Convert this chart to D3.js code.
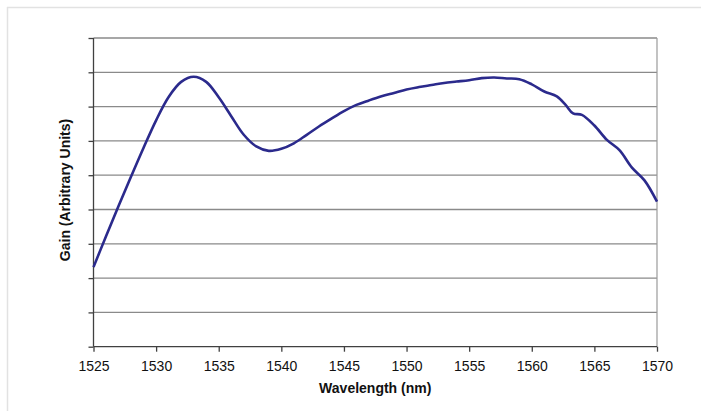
<!DOCTYPE html>
<html>
<head>
<meta charset="utf-8">
<script src="https://cdn.jsdelivr.net/npm/d3@7"></script>
<style>
  html, body { margin: 0; padding: 0; background: #fff; }
  svg { display: block; }
</style>
</head>
<body>
<svg id="chart" width="701" height="411"></svg>
<script>
// ---- data ----
const wavelengths = [1525, 1526, 1527, 1528, 1529, 1530, 1531, 1532, 1533, 1534, 1535, 1536, 1537, 1538, 1539,
  1540, 1541, 1542, 1543, 1544, 1545, 1546, 1547, 1548, 1549, 1550, 1551, 1552, 1553, 1554, 1555,
  1556, 1557, 1558, 1559, 1560, 1561, 1562, 1562.7, 1563.3, 1564, 1565, 1566, 1567, 1568, 1569, 1570];
const gain = [2.32, 3.22, 4.1, 4.96, 5.8, 6.6, 7.28, 7.72, 7.87, 7.72, 7.27, 6.72, 6.18, 5.84, 5.71,
  5.77, 5.93, 6.17, 6.42, 6.65, 6.87, 7.05, 7.18, 7.3, 7.4, 7.5, 7.57, 7.63, 7.69, 7.73, 7.77,
  7.83, 7.85, 7.82, 7.8, 7.65, 7.44, 7.3, 7.05, 6.8, 6.76, 6.45, 6.03, 5.73, 5.22, 4.85, 4.23];
const xTicks = [1525, 1530, 1535, 1540, 1545, 1550, 1555, 1560, 1565, 1570];
const yTicks = [0, 1, 2, 3, 4, 5, 6, 7, 8, 9];
const xTitle = "Wavelength (nm)";
const yTitle = "Gain (Arbitrary Units)";

// ---- layout ----
const svg = d3.select("#chart");
const pLeft = 93.5, pRight = 657, pTop = 38, pBottom = 346.7;

// outer frame (light)
svg.append("line").attr("x1", 7).attr("x2", 701).attr("y1", 7.5).attr("y2", 7.5)
  .attr("stroke", "#e2e2e2").attr("stroke-width", 1.5);
svg.append("line").attr("x1", 7.5).attr("x2", 7.5).attr("y1", 7).attr("y2", 411)
  .attr("stroke", "#e2e2e2").attr("stroke-width", 1.5);

const x = d3.scaleLinear().domain([1525, 1570]).range([pLeft, pRight]);
const y = d3.scaleLinear().domain([0, 9]).range([pBottom, pTop]);

// gridlines
svg.append("g").selectAll("line").data(yTicks.slice(1)).join("line")
  .attr("x1", pLeft).attr("x2", pRight)
  .attr("y1", d => y(d)).attr("y2", d => y(d))
  .attr("stroke", "#8a8a8a").attr("stroke-width", 1.3);

// right border of plot area
svg.append("line").attr("x1", pRight).attr("x2", pRight).attr("y1", pTop).attr("y2", pBottom)
  .attr("stroke", "#9a9a9a").attr("stroke-width", 1.2);

// y axis (no labels)
const yAxis = svg.append("g").attr("transform", `translate(${pLeft},0)`)
  .call(d3.axisLeft(y).tickValues(yTicks).tickSize(5).tickFormat(""));
yAxis.selectAll("path, line").attr("stroke", "#404040").attr("stroke-width", 1.3);
yAxis.select(".domain").attr("d", `M0,${pTop}V${pBottom}`);

// x axis
const xAxis = svg.append("g").attr("transform", `translate(0,${pBottom})`)
  .call(d3.axisBottom(x).tickValues(xTicks).tickSize(5).tickFormat(d3.format("d")));
xAxis.select(".domain").attr("d", `M${pLeft},0H${pRight}`);
xAxis.selectAll("path, line").attr("stroke", "#404040").attr("stroke-width", 1.3);
xAxis.selectAll("text")
  .attr("font-family", "Liberation Sans, Arial, sans-serif")
  .attr("font-size", 14).attr("fill", "#111")
  .attr("dy", null).attr("y", 0)
  .attr("transform", "translate(0,24.5)");

// curve
const pts = wavelengths.map((w, i) => [w, gain[i]]);
svg.append("path").datum(pts)
  .attr("fill", "none")
  .attr("stroke", "#2b2a8c")
  .attr("stroke-width", 2.6)
  .attr("stroke-linejoin", "round")
  .attr("d", d3.line().x(d => x(d[0])).y(d => y(d[1])).curve(d3.curveCatmullRom.alpha(0.5)));

// titles
svg.append("text").attr("x", (pLeft + pRight) / 2).attr("y", 393)
  .attr("text-anchor", "middle")
  .attr("font-family", "Liberation Sans, Arial, sans-serif")
  .attr("font-size", 14).attr("font-weight", "bold").attr("fill", "#111")
  .text(xTitle);

svg.append("text")
  .attr("transform", `translate(70,190) rotate(-90)`)
  .attr("text-anchor", "middle")
  .attr("font-family", "Liberation Sans, Arial, sans-serif")
  .attr("font-size", 14).attr("font-weight", "bold").attr("fill", "#111")
  .text(yTitle);
</script>
</body>
</html>
